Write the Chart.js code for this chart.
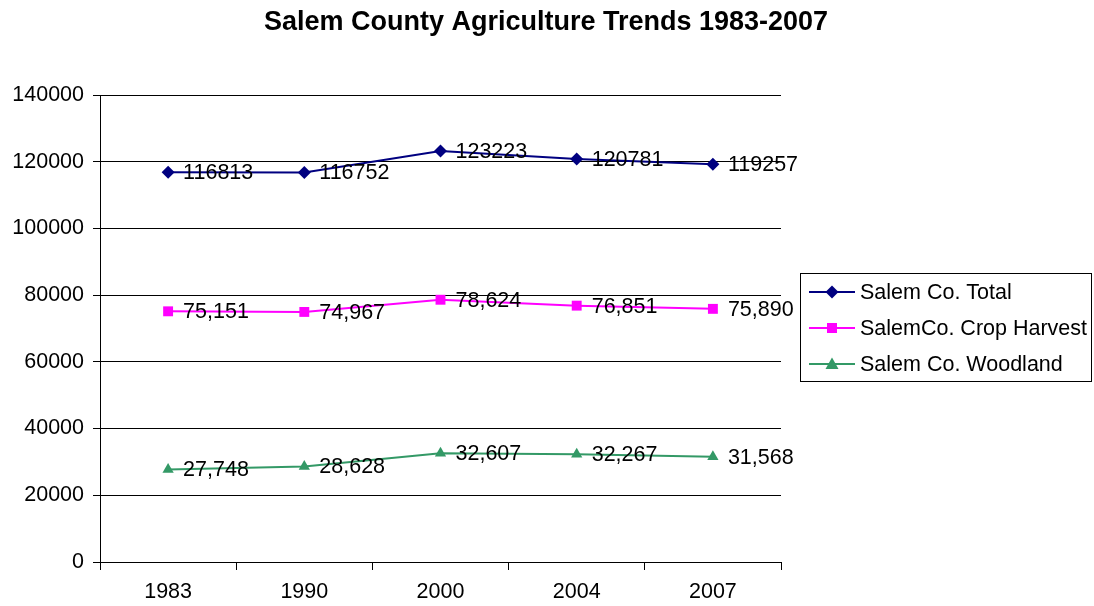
<!DOCTYPE html>
<html>
<head>
<meta charset="utf-8">
<script src="https://cdn.jsdelivr.net/npm/chart.js@4/dist/chart.umd.min.js"></script>
<style>
  html, body { margin: 0; padding: 0; background: #fff; }
  #wrap { width: 1094px; height: 606px; position: relative; }
</style>
</head>
<body>
<div id="wrap"><canvas id="chart" width="1094" height="606"></canvas></div>
<script>
// Werte
const years = ['1983', '1990', '2000', '2004', '2007'];
const totalVals = [116813, 116752, 123223, 120781, 119257];
const cropVals = [75151, 74967, 78624, 76851, 75890];
const woodVals = [27748, 28628, 32607, 32267, 31568];
const totalLabels = ['116813', '116752', '123223', '120781', '119257'];
const cropLabels = ['75,151', '74,967', '78,624', '76,851', '75,890'];
const woodLabels = ['27,748', '28,628', '32,607', '32,267', '31,568'];
const seriesNames = ['Salem Co. Total', 'SalemCo. Crop Harvest', 'Salem Co. Woodland'];
const yTicks = [0, 20000, 40000, 60000, 80000, 100000, 120000, 140000];
const titleText = 'Salem County Agriculture Trends 1983-2007';

const FONT = 'Liberation Sans, Arial, sans-serif';
const FS = 21.5;
const colors = ['#000080', '#FF00FF', '#339966'];
const styles = ['rectRot', 'rect', 'triangle'];
const valueLabels = [totalLabels, cropLabels, woodLabels];

function drawMarker(ctx, style, x, y, r) {
  ctx.beginPath();
  if (style === 'rectRot') {
    ctx.moveTo(x, y - r); ctx.lineTo(x + r, y); ctx.lineTo(x, y + r); ctx.lineTo(x - r, y);
  } else if (style === 'rect') {
    ctx.rect(x - 5, y - 5, 10, 10);
  } else {
    ctx.moveTo(x, y - r); ctx.lineTo(x + r, y + r * 0.75); ctx.lineTo(x - r, y + r * 0.75);
  }
  ctx.closePath();
  ctx.fill();
}

// Titel mittig über der ganzen Fläche
const titlePlugin = {
  id: 'bigTitle',
  afterDraw(chart) {
    const ctx = chart.ctx;
    ctx.save();
    ctx.font = 'bold 27px ' + FONT;
    ctx.fillStyle = '#000';
    ctx.textAlign = 'center';
    ctx.textBaseline = 'middle';
    ctx.fillText(titleText, 546, 23);
    ctx.restore();
  }
};

// Beschriftung rechts neben jedem Punkt
const valueLabelPlugin = {
  id: 'valueLabels',
  afterDatasetsDraw(chart) {
    const ctx = chart.ctx;
    ctx.save();
    ctx.font = FS + 'px ' + FONT;
    ctx.fillStyle = '#000';
    ctx.textBaseline = 'middle';
    ctx.textAlign = 'left';
    chart.data.datasets.forEach((ds, i) => {
      const meta = chart.getDatasetMeta(i);
      meta.data.forEach((pt, j) => {
        ctx.fillText(valueLabels[i][j], pt.x + 15, pt.y + 1);
      });
    });
    ctx.restore();
  }
};

// Legende mit Rahmen rechts
const boxLegendPlugin = {
  id: 'boxLegend',
  afterDraw(chart) {
    const ctx = chart.ctx;
    const x0 = 800, y0 = 273, w = 291, h = 108;
    ctx.save();
    ctx.strokeStyle = '#000';
    ctx.lineWidth = 1;
    ctx.strokeRect(x0 + 0.5, y0 + 0.5, w, h);
    ctx.font = FS + 'px ' + FONT;
    ctx.textBaseline = 'middle';
    seriesNames.forEach((name, i) => {
      const y = y0 + 19 + i * 36;
      ctx.strokeStyle = colors[i];
      ctx.lineWidth = 2;
      ctx.beginPath();
      ctx.moveTo(809, y); ctx.lineTo(855, y);
      ctx.stroke();
      ctx.fillStyle = colors[i];
      drawMarker(ctx, styles[i], 832, y, 6.5);
      ctx.fillStyle = '#000';
      ctx.fillText(name, 860, y + 1);
    });
    ctx.restore();
  }
};

function makeDataset(label, data, i) {
  return {
    label: label,
    data: data,
    borderColor: colors[i],
    backgroundColor: colors[i],
    borderWidth: 2,
    pointStyle: styles[i],
    pointRadius: i === 1 ? 7 : 6.5,
    pointBorderWidth: 0,
    tension: 0,
    fill: false
  };
}

const ctx = document.getElementById('chart').getContext('2d');
const chart = new Chart(ctx, {
  type: 'line',
  data: {
    labels: years,
    datasets: [
      makeDataset(seriesNames[0], totalVals, 0),
      makeDataset(seriesNames[1], cropVals, 1),
      makeDataset(seriesNames[2], woodVals, 2)
    ]
  },
  options: {
    responsive: false,
    animation: false,
    layout: { padding: { left: 0, right: 313, top: 95, bottom: 0 } },
    plugins: {
      legend: { display: false },
      tooltip: { enabled: false },
      title: { display: false }
    },
    scales: {
      x: {
        offset: true,
        grid: { offset: true, drawOnChartArea: false, drawTicks: true, tickLength: 8, color: '#000' },
        border: { color: '#000', width: 1 },
        ticks: { color: '#000', font: { family: FONT, size: FS }, padding: 9, maxRotation: 0 },
        afterFit: s => { s.height = 44; }
      },
      y: {
        min: 0,
        max: 140000,
        afterBuildTicks: s => { s.ticks = yTicks.map(v => ({ value: v })); },
        grid: { color: '#000', lineWidth: 1, tickLength: 7 },
        border: { color: '#000', width: 1 },
        ticks: { color: '#000', font: { family: FONT, size: FS }, padding: 9, callback: v => String(v) },
        afterFit: s => { s.width = 100; }
      }
    }
  },
  plugins: [valueLabelPlugin, boxLegendPlugin, titlePlugin]
});
</script>
</body>
</html>
